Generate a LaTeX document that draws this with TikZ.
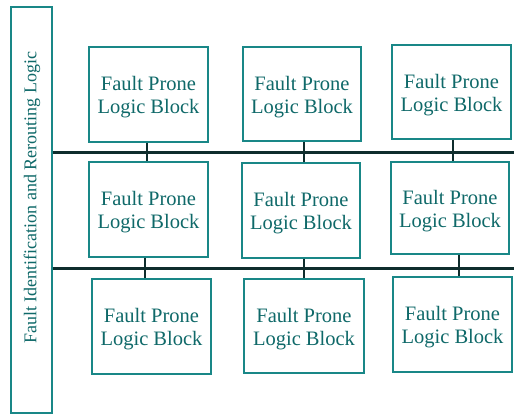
\documentclass[tikz,border=0pt]{standalone}
\usepackage{fontspec}
\setmainfont{Liberation Serif}
\definecolor{boxteal}{RGB}{25,135,135}
\definecolor{txtteal}{RGB}{15,105,105}
\definecolor{busdark}{RGB}{15,45,45}
\begin{document}
\begin{tikzpicture}[x=1pt,y=-1pt,
  btext/.style={text=txtteal, align=center, inner sep=0pt,
    font=\fontsize{20.5}{23}\selectfont, yshift=-3pt},
  blk/.style={draw=boxteal, line width=1.3pt, inner sep=0pt,
    label={[btext]center:{Fault Prone\\Logic Block}}},
  sidebox/.style={draw=boxteal, line width=1.3pt, inner sep=0pt},
  sidetext/.style={text=txtteal, rotate=90, font=\fontsize{18}{20}\selectfont, inner sep=0pt},
  bus/.style={draw=busdark, line width=2.8pt},
  stub/.style={draw=busdark, line width=2.6pt}]
\useasboundingbox (0,0) rectangle (514,415);
\fill[white] (0,0) rectangle (514,415);
% side block
\node[sidebox, minimum width=41pt, minimum height=406pt] (L) at (31.5,210) {};
\node[sidetext] (Lt) at (32,198) {Fault Identification and Rerouting Logic};
% logic blocks
\node[blk, minimum width=119pt, minimum height=95pt] (b11) at (148.5,94.5) {};
\node[blk, minimum width=118pt, minimum height=94pt] (b12) at (302,94) {};
\node[blk, minimum width=119pt, minimum height=94pt] (b13) at (451.5,92) {};
\node[blk, minimum width=119pt, minimum height=95pt] (b21) at (148.5,209.5) {};
\node[blk, minimum width=118pt, minimum height=95pt] (b22) at (301,210.5) {};
\node[blk, minimum width=118pt, minimum height=92pt] (b23) at (450,208) {};
\node[blk, minimum width=119pt, minimum height=95pt] (b31) at (151.5,326.5) {};
\node[blk, minimum width=120pt, minimum height=94pt] (b32) at (304,326) {};
\node[blk, minimum width=119pt, minimum height=95pt] (b33) at (452.5,324.5) {};
% bus end points and stub positions
\coordinate (e1) at (514,152.5);
\coordinate (e2) at (514,268.5);
\coordinate (s11) at (147,152.5);
\coordinate (s12) at (304,152.5);
\coordinate (s13) at (453,152.5);
\coordinate (s21) at (145,268.5);
\coordinate (s22) at (304,268.5);
\coordinate (s23) at (459,268.5);
% buses
\draw[bus] (L.east |- e1) -- (e1);
\draw[bus] (L.east |- e2) -- (e2);
% stubs
\draw[stub] (b11.south -| s11) -- (b21.north -| s11);
\draw[stub] (b12.south -| s12) -- (b22.north -| s12);
\draw[stub] (b13.south -| s13) -- (b23.north -| s13);
\draw[stub] (b21.south -| s21) -- (b31.north -| s21);
\draw[stub] (b22.south -| s22) -- (b32.north -| s22);
\draw[stub] (b23.south -| s23) -- (b33.north -| s23);
\end{tikzpicture}
\end{document}
